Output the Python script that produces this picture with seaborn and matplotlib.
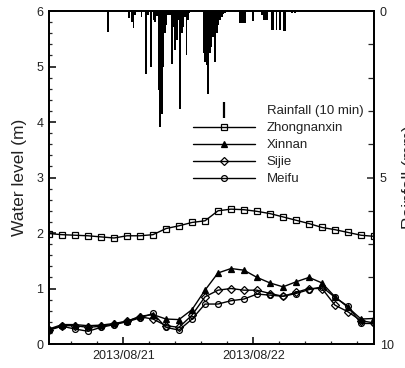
import numpy as np
import pandas as pd
import matplotlib
matplotlib.use("Agg")
import matplotlib.pyplot as plt
from matplotlib.lines import Line2D
from matplotlib.ticker import FixedLocator, MultipleLocator, NullFormatter
import seaborn as sns

# ---------------- data ----------------
# time in hours relative to 2013-08-21 00:00
TIME_H = [-13.7, -11.3, -8.9, -6.5, -4.1, -1.7, 0.7, 3.1, 5.5, 7.9, 10.3, 12.7, 15.1,
          17.5, 19.9, 22.3, 24.7, 27.1, 29.5, 31.9, 34.3, 36.7, 39.1, 41.5, 43.9, 46.3]

ZHONGNANXIN = [1.99, 1.97, 1.96, 1.95, 1.93, 1.91, 1.95, 1.95, 1.97, 2.08, 2.13, 2.19, 2.22,
               2.40, 2.43, 2.42, 2.39, 2.35, 2.29, 2.23, 2.17, 2.10, 2.06, 2.01, 1.96, 1.94]
XINNAN = [0.27, 0.35, 0.35, 0.33, 0.34, 0.37, 0.41, 0.50, 0.53, 0.45, 0.44, 0.62, 0.97,
          1.28, 1.36, 1.33, 1.20, 1.10, 1.03, 1.12, 1.20, 1.10, 0.85, 0.66, 0.45, 0.46]
SIJIE = [0.26, 0.33, 0.33, 0.30, 0.32, 0.36, 0.41, 0.49, 0.45, 0.33, 0.30, 0.52, 0.85,
         0.97, 1.00, 0.97, 0.97, 0.91, 0.86, 0.93, 1.00, 1.00, 0.70, 0.58, 0.42, 0.38]
MEIFU = [0.25, 0.32, 0.27, 0.23, 0.30, 0.35, 0.40, 0.47, 0.55, 0.30, 0.25, 0.45, 0.72,
         0.72, 0.78, 0.81, 0.90, 0.88, 0.86, 0.91, 0.98, 1.03, 0.84, 0.68, 0.37, 0.37]

RAIN_T = [-2.8, 1.1, 1.6, 1.9, 2.2, 3.4, 4.2, 4.6, 5.1, 5.6, 5.9, 6.2, 6.5, 6.8, 7.1, 7.4,
          7.7, 8.0, 8.3, 8.6, 9.0, 9.3, 9.6, 9.9, 10.2, 10.5, 10.8, 11.1, 11.4, 11.7, 12.0,
          12.2, 14.8, 15.1, 15.4, 15.7, 16.0, 16.3, 16.6, 17.0, 17.3, 17.6, 17.9, 18.2,
          18.5, 18.8, 20.6, 21.6, 21.9, 22.2, 22.5, 23.9, 25.6, 25.9, 26.2, 26.5, 27.4,
          27.7, 28.3, 28.9, 29.6, 29.9, 31.1, 31.7, 46.2]
RAIN_MM = [0.62, 0.22, 0.32, 0.52, 0.12, 0.17, 1.90, 0.12, 1.68, 0.27, 0.32, 0.15, 2.38,
           3.48, 3.08, 1.68, 0.67, 0.42, 0.12, 0.12, 1.58, 0.47, 1.17, 0.87, 0.27, 2.93,
           0.67, 0.47, 0.17, 1.33, 0.27, 0.07, 1.27, 1.52, 1.63, 2.48, 1.27, 1.07, 0.77,
           1.52, 0.67, 0.42, 0.27, 0.17, 0.10, 0.05, 0.03, 0.35, 0.35, 0.35, 0.35, 0.30,
           0.12, 0.27, 0.27, 0.27, 0.56, 0.56, 0.58, 0.56, 0.60, 0.60, 0.05, 0.05, 0.48]

DATE_TICKS = [0, 24]
DATE_LABELS = ["2013/08/21", "2013/08/22"]

SERIES = [("Zhongnanxin", ZHONGNANXIN, "s", "none"),
          ("Xinnan", XINNAN, "^", "black"),
          ("Sijie", SIJIE, "D", "none"),
          ("Meifu", MEIFU, "o", "none")]

# ---------------- style ----------------
sns.set_style("ticks")
plt.rcParams["font.family"] = ["Liberation Sans", "DejaVu Sans"]
TXT = "#222222"

fig = plt.figure(figsize=(4.06, 3.68), dpi=100)
ax = fig.add_axes([0.1207, 0.0652, 0.8005, 0.9049])

for name, vals, mk, fc in SERIES:
    df = pd.DataFrame({"t": TIME_H, "v": vals})
    ms = 3.6 if mk == "D" else 4.2
    sns.lineplot(data=df, x="t", y="v", ax=ax, color="black", linewidth=1.0,
                 marker=mk, markersize=ms, markerfacecolor=fc,
                 markeredgecolor="black", markeredgewidth=0.9, clip_on=True)

ax.set_xlim(-13.7, 46.3)
ax.set_ylim(0, 6)
ax.xaxis.set_major_locator(FixedLocator(DATE_TICKS))
ax.set_xticklabels(DATE_LABELS)
ax.xaxis.set_minor_locator(MultipleLocator(4.8))
ax.yaxis.set_major_locator(MultipleLocator(1))
ax.yaxis.set_minor_locator(MultipleLocator(0.2))
ax.set_xlabel("")
ax.set_ylabel("Water level (m)", fontsize=12.5, color=TXT, labelpad=7)
ax.tick_params(axis="both", which="major", direction="in", length=5, width=1.1,
               labelsize=9, colors="black", labelcolor=TXT, pad=4)
ax.tick_params(axis="both", which="minor", direction="in", length=2.5, width=0.9)
ax.tick_params(axis="y", which="both", right=False)
ax.tick_params(axis="x", which="both", top=False)

# rainfall on inverted right axis
ax2 = ax.twinx()
ax2.bar(RAIN_T, RAIN_MM, width=0.32, color="black", linewidth=0, align="center")
ax2.set_ylim(10, 0)
ax2.set_xlim(-13.7, 46.3)
ax2.yaxis.set_major_locator(FixedLocator([0, 5, 10]))
ax2.yaxis.set_minor_locator(MultipleLocator(1))
ax2.set_ylabel("Rainfall (mm)", fontsize=12.5, color=TXT, labelpad=6)
ax2.tick_params(axis="y", which="major", direction="in", length=5, width=1.1,
                labelsize=9, labelcolor=TXT, pad=4)
ax2.tick_params(axis="y", which="minor", direction="in", length=4, width=0.9)

for a in (ax, ax2):
    for s in a.spines.values():
        s.set_linewidth(1.3)
        s.set_color("black")
        s.set_visible(True)

handles = [Line2D([], [], linestyle="None", marker="|", markersize=11,
                  markeredgewidth=1.6, color="black")]
labels = ["Rainfall (10 min)"]
for name, vals, mk, fc in SERIES:
    ms = 3.6 if mk == "D" else 4.2
    handles.append(Line2D([], [], color="black", linewidth=1.0, marker=mk, markersize=ms,
                          markerfacecolor=fc, markeredgecolor="black", markeredgewidth=0.9))
    labels.append(name)

leg = ax2.legend(handles, labels, loc="upper left", bbox_to_anchor=(0.443, 0.717),
                 frameon=False, fontsize=9.5, handlelength=4.7, handletextpad=0.9,
                 labelspacing=0.36, borderpad=0, borderaxespad=0)
for t in leg.get_texts():
    t.set_color(TXT)

fig.savefig("out.png", dpi=100)
